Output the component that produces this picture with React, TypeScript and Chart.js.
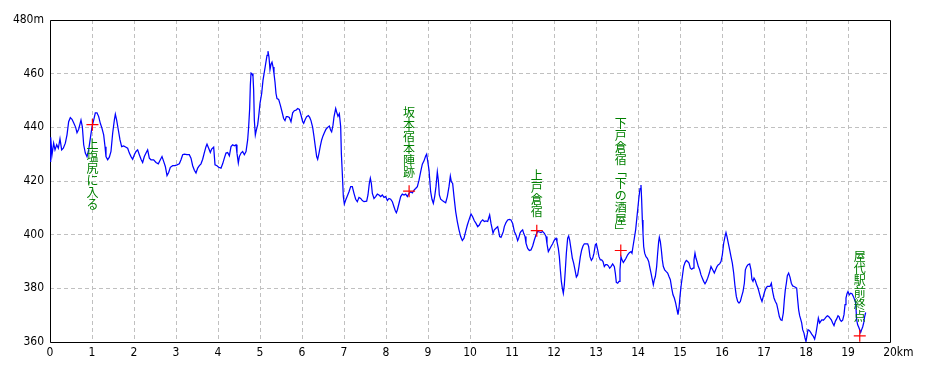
import React, { useEffect, useRef } from "react";
import { Chart, registerables } from "chart.js";

Chart.register(...registerables);

// ---- data -------------------------------------------------------------
const distanceKm = [
  0.000, 0.016, 0.048, 0.087, 0.119, 0.159, 0.198, 0.238, 0.278, 0.317, 0.365, 0.405, 0.444, 0.484, 0.524, 0.563,
  0.611, 0.643, 0.683, 0.738, 0.770, 0.802, 0.841, 0.881, 0.921, 0.960, 1.000, 1.040, 1.079, 1.119, 1.159, 1.198,
  1.238, 1.278, 1.310, 1.333, 1.373, 1.413, 1.452, 1.492, 1.532, 1.556, 1.587, 1.627, 1.667, 1.706, 1.754, 1.810,
  1.849, 1.889, 1.929, 1.968, 2.008, 2.048, 2.087, 2.127, 2.167, 2.206, 2.246, 2.286, 2.325, 2.365, 2.405, 2.468,
  2.524, 2.579, 2.627, 2.667, 2.706, 2.746, 2.786, 2.825, 2.865, 2.921, 2.976, 3.024, 3.079, 3.119, 3.159, 3.198,
  3.262,
  3.317, 3.357, 3.397, 3.437, 3.476, 3.516, 3.556, 3.595, 3.635, 3.675, 3.714, 3.738, 3.778, 3.817, 3.849, 3.897,
  3.929, 3.976, 4.016, 4.071, 4.111, 4.151, 4.190, 4.230, 4.270, 4.310, 4.349, 4.389, 4.429, 4.452, 4.484, 4.508,
  4.548, 4.587, 4.627, 4.667, 4.706, 4.730, 4.754, 4.770, 4.786, 4.810, 4.833, 4.849, 4.865, 4.889, 4.913, 4.944,
  4.968, 5.000, 5.040, 5.071, 5.103, 5.135, 5.167, 5.190, 5.214, 5.238, 5.262, 5.286, 5.310, 5.333, 5.357, 5.381,
  5.405, 5.444, 5.484, 5.524, 5.563, 5.595, 5.627, 5.659, 5.698, 5.738, 5.778, 5.817, 5.857, 5.897, 5.937, 5.976,
  6.016, 6.040, 6.071, 6.111, 6.151, 6.183, 6.214, 6.254, 6.286, 6.317, 6.349, 6.373, 6.405, 6.437, 6.468, 6.500,
  6.532, 6.571, 6.611, 6.651,
  6.683, 6.706, 6.738, 6.762, 6.802, 6.825, 6.857, 6.889, 6.921, 6.937, 6.960, 6.984, 7.008, 7.040, 7.079, 7.119,
  7.159, 7.198, 7.238, 7.278, 7.317, 7.357, 7.397, 7.437, 7.476, 7.540, 7.571, 7.603, 7.627, 7.651, 7.675, 7.714,
  7.754, 7.794, 7.833, 7.873, 7.913, 7.952, 7.992, 8.032, 8.071, 8.111, 8.151, 8.190, 8.222, 8.246, 8.270, 8.310,
  8.349, 8.389, 8.429, 8.468, 8.508, 8.548, 8.587, 8.627, 8.667, 8.706, 8.746, 8.786, 8.825, 8.865, 8.905, 8.944,
  8.968, 8.992, 9.024, 9.063, 9.095, 9.127, 9.159, 9.190, 9.222, 9.246, 9.270, 9.302, 9.341, 9.381, 9.421, 9.460,
  9.500, 9.532, 9.556, 9.587, 9.619, 9.659, 9.698, 9.738, 9.778, 9.817, 9.857, 9.897, 9.937, 9.976,
  10.024, 10.063, 10.103, 10.143, 10.183, 10.222, 10.262, 10.302, 10.341, 10.381, 10.421, 10.444, 10.468, 10.500,
  10.524, 10.548, 10.579, 10.619, 10.659, 10.683, 10.706, 10.738, 10.762, 10.794, 10.817, 10.857, 10.897, 10.937,
  10.976, 11.016, 11.056, 11.095, 11.135, 11.159, 11.190, 11.214, 11.254, 11.278, 11.310, 11.333, 11.373, 11.413,
  11.452, 11.492, 11.532, 11.571, 11.611, 11.651, 11.690, 11.730, 11.770, 11.810, 11.833, 11.865, 11.897, 11.929,
  11.968, 12.008, 12.048, 12.071, 12.103, 12.127, 12.151, 12.175, 12.198, 12.222, 12.246, 12.270, 12.294, 12.325,
  12.349, 12.373, 12.405, 12.437, 12.468, 12.500, 12.532, 12.563, 12.595, 12.627, 12.659, 12.690, 12.722, 12.762,
  12.802, 12.825, 12.857, 12.889, 12.921, 12.952, 12.984, 13.008, 13.040, 13.071, 13.103, 13.135, 13.167, 13.198,
  13.230, 13.262, 13.294, 13.325,
  13.357, 13.397, 13.437, 13.460, 13.484, 13.516, 13.548, 13.571, 13.595, 13.619, 13.651, 13.683, 13.714, 13.754,
  13.794, 13.833, 13.857, 13.881, 13.913, 13.944, 13.976, 14.000, 14.024, 14.048, 14.071, 14.087, 14.103, 14.119,
  14.135, 14.159, 14.190, 14.222, 14.254, 14.278, 14.310, 14.341, 14.365, 14.389, 14.413, 14.444, 14.468, 14.492,
  14.508, 14.532, 14.556, 14.579, 14.603, 14.635, 14.667, 14.706, 14.738, 14.770, 14.802, 14.833, 14.865, 14.897,
  14.929, 14.952, 14.976, 15.000, 15.024, 15.056, 15.087, 15.119, 15.151, 15.183, 15.214, 15.246, 15.278, 15.310,
  15.333, 15.357, 15.381, 15.405, 15.437, 15.468, 15.500, 15.532, 15.563, 15.595, 15.627, 15.659, 15.698, 15.738,
  15.778, 15.817, 15.849, 15.881, 15.913, 15.944, 15.976, 16.008, 16.040, 16.071, 16.095, 16.119, 16.151, 16.183,
  16.214, 16.246, 16.278, 16.310, 16.341, 16.373, 16.405, 16.437, 16.468, 16.500, 16.532, 16.556, 16.587, 16.619,
  16.659,
  16.690, 16.712, 16.738, 16.762, 16.794, 16.825, 16.857, 16.889, 16.921, 16.952, 16.984, 17.016, 17.048, 17.079,
  17.111, 17.143, 17.175, 17.206, 17.238, 17.270, 17.302, 17.333, 17.365, 17.397, 17.429, 17.460, 17.484, 17.508,
  17.532, 17.556, 17.587, 17.619, 17.651, 17.683, 17.714, 17.746, 17.778, 17.802, 17.825, 17.849, 17.873, 17.897,
  17.921, 17.952, 17.976, 18.000, 18.024, 18.048, 18.079, 18.111, 18.143, 18.175, 18.206, 18.238, 18.270, 18.294,
  18.325, 18.349, 18.381, 18.413, 18.444, 18.476, 18.508, 18.540, 18.571, 18.603, 18.635, 18.667, 18.698, 18.730,
  18.762, 18.786, 18.810, 18.841, 18.873, 18.905, 18.929, 18.952, 18.976, 19.000, 19.032, 19.063, 19.095, 19.127,
  19.159, 19.183, 19.206, 19.230, 19.254, 19.278, 19.302, 19.325, 19.349, 19.373, 19.397, 19.421,
];

const elevationM = [
  427.3, 436.3, 429.8, 434.1, 431.6, 433.5, 432.2, 435.7, 431.6, 432.2, 434.1, 437.2, 442.1, 443.6, 443.0, 441.7,
  440.0, 438.0, 439.3, 442.7, 440.2, 433.5, 430.4, 429.1, 431.6, 435.9, 440.2, 442.7, 445.4, 445.4, 444.0, 441.5,
  439.6, 437.2, 432.8, 429.1, 427.9, 428.9, 431.0, 437.8, 442.7, 444.9, 442.7, 439.0, 435.3, 432.8, 433.1, 432.6,
  432.2, 430.4, 429.1, 428.1, 429.8, 431.0, 431.6, 429.8, 428.1, 426.9, 429.1, 430.4, 431.6, 428.5, 427.9, 427.9,
  426.9, 426.4, 427.9, 429.1, 427.3, 425.4, 422.0, 423.2, 425.1, 425.7, 425.7, 426.0, 426.4, 427.9, 429.8, 430.0,
  429.8,
  429.8, 428.5, 425.7, 424.0, 423.0, 424.8, 425.7, 426.4, 428.1, 430.6, 432.8, 433.7, 432.2, 430.6, 431.9, 432.6,
  426.0, 425.7, 425.1, 424.8, 426.4, 428.5, 430.4, 430.6, 429.4, 432.8, 433.5, 433.1, 433.5, 430.4, 426.7, 429.1,
  430.4, 431.0, 429.8, 431.0, 435.3, 440.2, 447.0, 455.7, 460.2, 460.0, 459.0, 453.8, 442.7, 437.2, 439.0, 440.9,
  444.0, 448.9, 452.6, 457.5, 460.6, 463.7, 466.8, 468.4, 466.2, 461.5, 463.5, 464.3, 462.5, 460.0, 456.9, 452.6,
  450.7, 450.4, 448.3, 445.8, 443.3, 442.5, 444.0, 444.0, 443.7, 442.1, 445.4, 446.2, 446.4, 447.0, 446.7, 444.6,
  442.1, 441.5, 442.7, 444.0, 444.4, 443.7, 442.5, 440.0, 436.5, 432.8, 429.1, 428.1, 430.4, 433.1, 435.3, 436.8,
  438.0, 439.3, 440.0, 440.5,
  438.9, 438.3, 440.8, 443.9, 447.0, 445.7, 444.1, 445.1, 440.2, 430.3, 422.8, 414.2, 411.4, 412.9, 414.4, 416.0,
  417.9, 417.9, 415.4, 413.2, 412.3, 413.9, 413.5, 412.7, 412.3, 412.5, 414.8, 419.1, 421.0, 419.1, 415.4, 413.5,
  414.2, 415.1, 414.8, 414.2, 414.8, 413.9, 414.2, 412.7, 413.5, 413.2, 412.3, 410.4, 408.9, 408.2, 409.2, 411.7,
  414.2, 415.1, 414.8, 415.1, 414.2, 415.4, 416.0, 415.6, 416.6, 417.2, 417.9, 420.3, 423.4, 426.3, 427.5, 429.3,
  430.0, 427.5, 424.1, 416.0, 413.2, 411.7, 414.2, 417.9, 423.4, 420.3, 414.8, 413.2, 412.7, 412.3, 411.9, 414.2,
  417.9, 421.8, 419.7, 419.1, 414.2, 408.6, 404.9, 401.8, 399.3, 397.8, 398.7, 401.2, 403.6, 405.5,
  407.7, 406.7, 405.2, 404.2, 403.0, 403.6, 404.9, 405.5, 404.9, 405.1, 404.9, 406.1, 407.3, 404.2,
  402.4, 400.5, 401.8, 402.4, 403.0, 401.2, 399.3, 399.0, 399.9, 401.2, 403.0, 404.5, 405.5, 405.7,
  405.5, 404.2, 401.2, 399.9, 397.8, 398.7, 400.5, 401.2, 401.8, 400.5, 399.3, 396.8, 394.9, 394.1,
  394.3, 395.8, 398.0, 399.9, 401.2, 401.0, 400.8, 401.2, 400.5, 399.3, 396.6, 393.7, 394.6, 395.6,
  396.6, 398.0, 398.7, 397.4, 394.9, 391.8, 386.9, 382.6, 380.1, 378.2, 381.3, 386.9, 393.1, 398.7,
  399.5, 398.0, 394.6, 391.2, 389.4, 386.9, 384.2, 385.0, 388.1, 391.8, 394.3, 395.8, 396.6, 396.6,
  396.6, 395.6, 391.8, 390.4, 391.2, 393.1, 396.2, 396.6, 394.3, 391.8, 390.6, 390.6, 390.0, 388.1,
  388.8, 388.8, 388.4, 387.5,
  388.1, 389.1, 388.1, 385.7, 382.2, 381.9, 382.6, 386.9, 391.8, 390.6, 389.6, 390.4, 391.2, 392.5,
  393.3, 393.7, 393.1, 395.6, 398.7, 401.8, 406.7, 410.4, 414.2, 417.2, 418.5, 412.9, 405.5, 400.5,
  395.6, 393.1, 391.8, 391.2, 390.0, 388.1, 385.7, 383.2, 381.3, 383.2, 384.4, 388.1, 393.1, 397.4,
  399.0, 397.4, 394.3, 390.6, 388.1, 386.9, 386.3, 385.7, 384.4, 383.2, 380.1, 377.6, 376.4, 374.5,
  372.0, 370.2, 372.6, 377.0, 380.7, 384.4, 388.1, 389.6, 390.4, 390.0, 389.4, 387.5, 387.1, 387.5,
  390.6, 393.1, 391.2, 390.0, 388.1, 386.9, 385.0, 383.8, 382.6, 381.7, 382.6, 383.8, 385.7, 388.1,
  386.9, 385.7, 386.9, 388.1, 388.8, 389.1, 390.0, 392.5, 396.8, 399.3, 400.8, 399.3, 396.8, 394.3,
  391.8, 389.4, 385.7, 380.7, 377.0, 375.1, 374.5, 375.1, 377.0, 378.8, 381.9, 386.9, 388.1, 388.8,
  389.1,
  386.9, 383.4, 382.6, 383.8, 382.9, 381.3, 380.1, 378.2, 376.4, 375.1, 377.0, 378.8, 380.1, 380.7,
  380.7, 380.7, 381.9, 378.8, 376.4, 375.1, 374.2, 372.0, 369.5, 368.3, 368.1, 370.8, 375.7, 379.5,
  381.9, 384.7, 385.7, 384.2, 381.9, 380.9, 380.7, 380.4, 380.1, 375.7, 372.0, 369.8, 368.5, 367.1,
  364.6, 363.3, 361.5, 360.2, 362.4, 364.6, 364.3, 363.6, 362.7, 362.1, 361.1, 363.3, 366.4, 368.9,
  367.1, 367.7, 368.3, 368.1, 368.6, 369.3, 369.8, 369.5, 368.9, 368.3, 367.1, 366.1, 367.7, 368.6,
  369.8, 369.5, 368.3, 367.7, 368.1, 370.2, 373.9, 376.4, 378.0, 378.8, 377.6, 378.2, 378.0, 377.0,
  375.7, 374.5, 368.3, 366.4, 365.6, 364.6, 363.6, 364.6, 365.6, 367.1, 369.5, 371.0,
];

const markerKm = [1.01, 8.55, 11.59, 13.59, 19.28];
const markerM = [441.0, 416.2, 401.5, 394.1, 362.3];
const markerLabels = ["上塩尻に入る", "坂本宿本陣跡", "上戸倉宿", "下戸倉宿﹁下の酒屋﹂", "屋代駅前終点"];
const markerLabelBelow = [true, false, false, false, false];

const xMin = 0;
const xMax = 20;
const xStep = 1;
const xUnit = "km";
const yMin = 360;
const yMax = 480;
const yStep = 20;
const yUnit = "m";

// ---- styles -----------------------------------------------------------
const TICK_FONT = "'Liberation Sans Narrow', 'DejaVu Sans Condensed', 'Liberation Sans', sans-serif";
const LABEL_FONT = "'Noto Sans CJK JP', 'Noto Sans CJK SC', sans-serif";
const X_TICK_PAD = 4;

const profilePlugin = {
  id: "profileDecor",
  beforeDatasetsDraw(chart: any) {
    const { ctx, chartArea } = chart;
    ctx.save();
    ctx.strokeStyle = "#000";
    ctx.lineWidth = 1;
    const l = Math.round(chartArea.left) + 0.5;
    const t = Math.round(chartArea.top) + 0.5;
    const r = Math.round(chartArea.right) + 0.5;
    const b = Math.round(chartArea.bottom) + 0.5;
    ctx.beginPath();
    ctx.moveTo(l, t);
    ctx.lineTo(r, t);
    ctx.lineTo(r, b);
    ctx.lineTo(l, b);
    ctx.closePath();
    ctx.stroke();
    ctx.restore();
  },
  afterDatasetsDraw(chart: any) {
    const { ctx, chartArea } = chart;
    const xs = chart.scales.x;
    const ys = chart.scales.y;
    ctx.save();
    // vertical labels
    ctx.font = `12px ${LABEL_FONT}`;
    ctx.fillStyle = "#008000";
    ctx.textAlign = "center";
    ctx.textBaseline = "middle";
    const cell = 12;
    markerLabels.forEach((text, i) => {
      const px = xs.getPixelForValue(markerKm[i]);
      const py = ys.getPixelForValue(markerM[i]);
      const chars = Array.from(text);
      const top = markerLabelBelow[i] ? py + 14 : py - 13 - chars.length * cell;
      chars.forEach((ch, k) => {
        ctx.fillText(ch, px, top + k * cell + cell / 2);
      });
    });
    // unit after the last x tick
    ctx.font = `12px ${TICK_FONT}`;
    ctx.fillStyle = "#000";
    ctx.textAlign = "left";
    const lastPx = xs.getPixelForValue(xMax);
    const w = ctx.measureText(String(xMax)).width;
    ctx.fillText(xUnit, lastPx + w / 2, chartArea.bottom + X_TICK_PAD + 7.2);
    ctx.restore();
  },
};

export default function App() {
  const ref = useRef<HTMLCanvasElement | null>(null);

  useEffect(() => {
    if (!ref.current) return;
    const chart = new Chart(ref.current, {
      type: "scatter",
      data: {
        datasets: [
          {
            label: "markers",
            data: markerKm.map((x, i) => ({ x, y: markerM[i] })),
            showLine: false,
            pointStyle: "cross",
            pointRadius: 6,
            pointBorderColor: "#ff0000",
            pointBackgroundColor: "#ff0000",
            pointBorderWidth: 1.2,
            pointHoverRadius: 6,
          },
          {
            label: "elevation",
            data: distanceKm.map((x, i) => ({ x, y: elevationM[i] })),
            showLine: true,
            borderColor: "#0000ff",
            borderWidth: 1.25,
            pointRadius: 0,
            pointHoverRadius: 0,
            tension: 0,
            fill: false,
          },
        ],
      },
      options: {
        responsive: false,
        devicePixelRatio: 1,
        animation: false,
        events: [],
        layout: { padding: { top: 20, right: 40, left: 0, bottom: 0 } },
        plugins: {
          legend: { display: false },
          tooltip: { enabled: false },
          title: { display: false },
        },
        scales: {
          x: {
            type: "linear",
            min: xMin,
            max: xMax,
            afterFit: (s: any) => {
              s.height = 30;
            },
            afterBuildTicks: (s: any) => {
              const t = [];
              for (let v = xMin; v <= xMax; v += xStep) t.push({ value: v });
              s.ticks = t;
            },
            ticks: {
              stepSize: xStep,
              autoSkip: false,
              maxRotation: 0,
              padding: X_TICK_PAD,
              color: "#000",
              font: { family: TICK_FONT, size: 12 },
              callback: (v: any) => String(v),
            },
            grid: {
              color: "#c0c0c0",
              lineWidth: 1,
              drawTicks: false,
            },
            border: { display: false, dash: [4, 3] },
          },
          y: {
            type: "linear",
            min: yMin,
            max: yMax,
            afterFit: (s: any) => {
              s.width = 50;
            },
            afterBuildTicks: (s: any) => {
              const t = [];
              for (let v = yMin; v <= yMax; v += yStep) t.push({ value: v });
              s.ticks = t;
            },
            ticks: {
              stepSize: yStep,
              autoSkip: false,
              padding: 6,
              color: "#000",
              font: { family: TICK_FONT, size: 12 },
              callback: (v: any) => (v === yMax ? `${v}${yUnit}` : String(v)),
            },
            grid: {
              color: "#c0c0c0",
              lineWidth: 1,
              drawTicks: false,
            },
            border: { display: false, dash: [4, 3] },
          },
        },
      },
      plugins: [profilePlugin],
    });
    return () => chart.destroy();
  }, []);

  return (
    <div style={{ position: "absolute", left: 0, top: 0, width: 930, height: 372, background: "#fff" }}>
      <canvas ref={ref} width={930} height={372} style={{ display: "block", width: 930, height: 372 }} />
    </div>
  );
}
